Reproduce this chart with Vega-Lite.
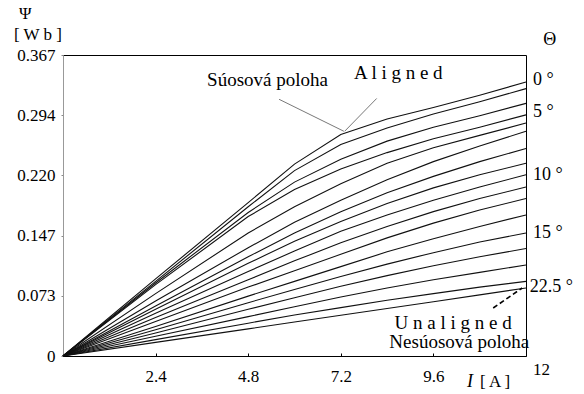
{
  "$schema": "https://vega.github.io/schema/vega-lite/v6.json",
  "width": 463,
  "height": 301,
  "autosize": {"type": "none"},
  "padding": {"left": 63, "top": 55, "right": 58, "bottom": 38},
  "background": "white",
  "config": {
    "view": {"stroke": "#000", "strokeWidth": 1},
    "font": "Liberation Serif",
    "axis": {"grid": false, "labelFont": "Liberation Serif", "labelFontSize": 17, "labelColor": "#000", "title": null}
  },
  "datasets": {
    "curves": [
      {"a": 1, "i": 0, "p": 0}, {"a": 1, "i": 2.4, "p": 0.094}, {"a": 1, "i": 4.8, "p": 0.187}, {"a": 1, "i": 6, "p": 0.234}, {"a": 1, "i": 7.2, "p": 0.270}, {"a": 1, "i": 8.4, "p": 0.289}, {"a": 1, "i": 9.6, "p": 0.303}, {"a": 1, "i": 10.8, "p": 0.318}, {"a": 1, "i": 12, "p": 0.334},
      {"a": 2, "i": 0, "p": 0}, {"a": 2, "i": 2.4, "p": 0.091}, {"a": 2, "i": 4.8, "p": 0.182}, {"a": 2, "i": 6, "p": 0.226}, {"a": 2, "i": 7.2, "p": 0.258}, {"a": 2, "i": 8.4, "p": 0.278}, {"a": 2, "i": 9.6, "p": 0.295}, {"a": 2, "i": 10.8, "p": 0.310}, {"a": 2, "i": 12, "p": 0.326},
      {"a": 3, "i": 0, "p": 0}, {"a": 3, "i": 2.4, "p": 0.089}, {"a": 3, "i": 4.8, "p": 0.175}, {"a": 3, "i": 6, "p": 0.212}, {"a": 3, "i": 7.2, "p": 0.240}, {"a": 3, "i": 8.4, "p": 0.262}, {"a": 3, "i": 9.6, "p": 0.279}, {"a": 3, "i": 10.8, "p": 0.293}, {"a": 3, "i": 12, "p": 0.308},
      {"a": 4, "i": 0, "p": 0}, {"a": 4, "i": 2.4, "p": 0.087}, {"a": 4, "i": 4.8, "p": 0.170}, {"a": 4, "i": 6, "p": 0.203}, {"a": 4, "i": 7.2, "p": 0.228}, {"a": 4, "i": 8.4, "p": 0.248}, {"a": 4, "i": 9.6, "p": 0.265}, {"a": 4, "i": 10.8, "p": 0.279}, {"a": 4, "i": 12, "p": 0.294},
      {"a": 5, "i": 0, "p": 0}, {"a": 5, "i": 2.4, "p": 0.076}, {"a": 5, "i": 4.8, "p": 0.150}, {"a": 5, "i": 6, "p": 0.182}, {"a": 5, "i": 7.2, "p": 0.210}, {"a": 5, "i": 8.4, "p": 0.235}, {"a": 5, "i": 9.6, "p": 0.254}, {"a": 5, "i": 10.8, "p": 0.269}, {"a": 5, "i": 12, "p": 0.284},
      {"a": 6, "i": 0, "p": 0}, {"a": 6, "i": 2.4, "p": 0.067}, {"a": 6, "i": 4.8, "p": 0.132}, {"a": 6, "i": 6, "p": 0.163}, {"a": 6, "i": 7.2, "p": 0.190}, {"a": 6, "i": 8.4, "p": 0.215}, {"a": 6, "i": 9.6, "p": 0.237}, {"a": 6, "i": 10.8, "p": 0.256}, {"a": 6, "i": 12, "p": 0.274},
      {"a": 7, "i": 0, "p": 0}, {"a": 7, "i": 2.4, "p": 0.061}, {"a": 7, "i": 4.8, "p": 0.121}, {"a": 7, "i": 6, "p": 0.150}, {"a": 7, "i": 7.2, "p": 0.176}, {"a": 7, "i": 8.4, "p": 0.199}, {"a": 7, "i": 9.6, "p": 0.219}, {"a": 7, "i": 10.8, "p": 0.237}, {"a": 7, "i": 12, "p": 0.253},
      {"a": 8, "i": 0, "p": 0}, {"a": 8, "i": 2.4, "p": 0.057}, {"a": 8, "i": 4.8, "p": 0.113}, {"a": 8, "i": 6, "p": 0.140}, {"a": 8, "i": 7.2, "p": 0.164}, {"a": 8, "i": 8.4, "p": 0.186}, {"a": 8, "i": 9.6, "p": 0.205}, {"a": 8, "i": 10.8, "p": 0.221}, {"a": 8, "i": 12, "p": 0.235},
      {"a": 9, "i": 0, "p": 0}, {"a": 9, "i": 2.4, "p": 0.052}, {"a": 9, "i": 4.8, "p": 0.103}, {"a": 9, "i": 6, "p": 0.128}, {"a": 9, "i": 7.2, "p": 0.152}, {"a": 9, "i": 8.4, "p": 0.172}, {"a": 9, "i": 9.6, "p": 0.190}, {"a": 9, "i": 10.8, "p": 0.206}, {"a": 9, "i": 12, "p": 0.221},
      {"a": 10, "i": 0, "p": 0}, {"a": 10, "i": 2.4, "p": 0.047}, {"a": 10, "i": 4.8, "p": 0.093}, {"a": 10, "i": 6, "p": 0.116}, {"a": 10, "i": 7.2, "p": 0.138}, {"a": 10, "i": 8.4, "p": 0.158}, {"a": 10, "i": 9.6, "p": 0.176}, {"a": 10, "i": 10.8, "p": 0.192}, {"a": 10, "i": 12, "p": 0.206},
      {"a": 11, "i": 0, "p": 0}, {"a": 11, "i": 2.4, "p": 0.042}, {"a": 11, "i": 4.8, "p": 0.084}, {"a": 11, "i": 6, "p": 0.104}, {"a": 11, "i": 7.2, "p": 0.124}, {"a": 11, "i": 8.4, "p": 0.144}, {"a": 11, "i": 9.6, "p": 0.162}, {"a": 11, "i": 10.8, "p": 0.178}, {"a": 11, "i": 12, "p": 0.192},
      {"a": 12, "i": 0, "p": 0}, {"a": 12, "i": 2.4, "p": 0.036}, {"a": 12, "i": 4.8, "p": 0.073}, {"a": 12, "i": 6, "p": 0.091}, {"a": 12, "i": 7.2, "p": 0.109}, {"a": 12, "i": 8.4, "p": 0.127}, {"a": 12, "i": 9.6, "p": 0.143}, {"a": 12, "i": 10.8, "p": 0.158}, {"a": 12, "i": 12, "p": 0.172},
      {"a": 13, "i": 0, "p": 0}, {"a": 13, "i": 2.4, "p": 0.032}, {"a": 13, "i": 4.8, "p": 0.065}, {"a": 13, "i": 6, "p": 0.081}, {"a": 13, "i": 7.2, "p": 0.097}, {"a": 13, "i": 8.4, "p": 0.112}, {"a": 13, "i": 9.6, "p": 0.126}, {"a": 13, "i": 10.8, "p": 0.139}, {"a": 13, "i": 12, "p": 0.150},
      {"a": 14, "i": 0, "p": 0}, {"a": 14, "i": 2.4, "p": 0.028}, {"a": 14, "i": 4.8, "p": 0.057}, {"a": 14, "i": 6, "p": 0.071}, {"a": 14, "i": 7.2, "p": 0.085}, {"a": 14, "i": 8.4, "p": 0.098}, {"a": 14, "i": 9.6, "p": 0.110}, {"a": 14, "i": 10.8, "p": 0.121}, {"a": 14, "i": 12, "p": 0.131},
      {"a": 15, "i": 0, "p": 0}, {"a": 15, "i": 2.4, "p": 0.024}, {"a": 15, "i": 4.8, "p": 0.048}, {"a": 15, "i": 6, "p": 0.060}, {"a": 15, "i": 7.2, "p": 0.072}, {"a": 15, "i": 8.4, "p": 0.083}, {"a": 15, "i": 9.6, "p": 0.093}, {"a": 15, "i": 10.8, "p": 0.102}, {"a": 15, "i": 12, "p": 0.111},
      {"a": 16, "i": 0, "p": 0}, {"a": 16, "i": 2.4, "p": 0.020}, {"a": 16, "i": 4.8, "p": 0.040}, {"a": 16, "i": 6, "p": 0.050}, {"a": 16, "i": 7.2, "p": 0.059}, {"a": 16, "i": 8.4, "p": 0.068}, {"a": 16, "i": 9.6, "p": 0.076}, {"a": 16, "i": 10.8, "p": 0.084}, {"a": 16, "i": 12, "p": 0.091},
      {"a": 17, "i": 0, "p": 0}, {"a": 17, "i": 2.4, "p": 0.0166}, {"a": 17, "i": 4.8, "p": 0.0331}, {"a": 17, "i": 6, "p": 0.0414}, {"a": 17, "i": 7.2, "p": 0.0497}, {"a": 17, "i": 8.4, "p": 0.058}, {"a": 17, "i": 9.6, "p": 0.0662}, {"a": 17, "i": 10.8, "p": 0.0745}, {"a": 17, "i": 12, "p": 0.083}
    ]
  },
  "layer": [
    {
      "data": {"name": "curves"},
      "mark": {"type": "line", "color": "#111", "strokeWidth": 1.1},
      "encoding": {
        "x": {"field": "i", "type": "quantitative", "scale": {"domain": [0, 12], "nice": false, "zero": false},
              "axis": {"values": [2.4, 4.8, 7.2, 9.6], "tickSize": -3, "tickColor": "#000", "domainColor": "#000", "labelPadding": 15, "format": ".1f"}},
        "y": {"field": "p", "type": "quantitative", "scale": {"domain": [0, 0.367], "nice": false},
              "axis": {"values": [0, 0.0734, 0.1468, 0.2202, 0.2936, 0.367], "tickSize": 2, "tickColor": "#888", "domainColor": "#999", "labelPadding": 6,
                       "labelExpr": "datum.value == 0 ? '0' : format(datum.value, '.3f')"}},
        "detail": {"field": "a", "type": "nominal"}
      }
    },
    {
      "data": {"values": [
        {"x": 5.6, "y": 0.313, "x2": 7.28, "y2": 0.274},
        {"x": 8.13, "y": 0.314, "x2": 7.3, "y2": 0.274}
      ]},
      "mark": {"type": "rule", "color": "#555", "strokeWidth": 0.8},
      "encoding": {
        "x": {"field": "x", "type": "quantitative"},
        "y": {"field": "y", "type": "quantitative"},
        "x2": {"field": "x2"},
        "y2": {"field": "y2"}
      }
    },
    {
      "data": {"values": [{"x": 11.15, "y": 0.0585, "x2": 11.9, "y2": 0.0829}]},
      "mark": {"type": "rule", "color": "#000", "strokeWidth": 1.6, "strokeDash": [5, 3]},
      "encoding": {
        "x": {"field": "x", "type": "quantitative"},
        "y": {"field": "y", "type": "quantitative"},
        "x2": {"field": "x2"},
        "y2": {"field": "y2"}
      }
    },
    {
      "data": {"values": [
        {"x": 12.45, "y": 0.385, "t": "Θ"},
        {"x": 12.18, "y": 0.3365, "t": "0 °"},
        {"x": 12.18, "y": 0.298, "t": "5 °"},
        {"x": 12.18, "y": 0.2207, "t": "10 °"},
        {"x": 12.18, "y": 0.1496, "t": "15 °"},
        {"x": 12.1, "y": 0.0845, "t": "22.5 °"}
      ]},
      "mark": {"type": "text", "align": "left", "baseline": "middle", "font": "Liberation Serif", "fontSize": 18, "color": "#000"},
      "encoding": {
        "x": {"field": "x", "type": "quantitative"},
        "y": {"field": "y", "type": "quantitative"},
        "text": {"field": "t"}
      }
    },
    {
      "data": {"values": [
        {"x": 5.3, "y": 0.3365, "t": "Súosová poloha"},
        {"x": 10.27, "y": 0.0171, "t": "Nesúosová poloha"}
      ]},
      "mark": {"type": "text", "align": "center", "baseline": "middle", "font": "Liberation Serif", "fontSize": 19, "color": "#000"},
      "encoding": {
        "x": {"field": "x", "type": "quantitative"},
        "y": {"field": "y", "type": "quantitative"},
        "text": {"field": "t"}
      }
    },
    {
      "data": {"values": [
        {"x": -0.98, "y": 0.417, "t": "Ψ"},
        {"x": -0.65, "y": 0.391, "t": "[ W b ]"},
        {"x": 12.4, "y": -0.017, "t": "12"},
        {"x": 11.2, "y": -0.0317, "t": "[ A ]"}
      ]},
      "mark": {"type": "text", "align": "center", "baseline": "middle", "font": "Liberation Serif", "fontSize": 17, "color": "#000"},
      "encoding": {
        "x": {"field": "x", "type": "quantitative"},
        "y": {"field": "y", "type": "quantitative"},
        "text": {"field": "t"}
      }
    },
    {
      "data": {"values": [
        {"x": 8.69, "y": 0.345, "t": "A l i g n e d"},
        {"x": 10.11, "y": 0.0402, "t": "U n a l i g n e d"}
      ]},
      "mark": {"type": "text", "align": "center", "baseline": "middle", "font": "Liberation Serif", "fontSize": 19, "color": "#000"},
      "encoding": {
        "x": {"field": "x", "type": "quantitative"},
        "y": {"field": "y", "type": "quantitative"},
        "text": {"field": "t"}
      }
    },
    {
      "data": {"values": [{"x": 10.55, "y": -0.0317, "t": "I"}]},
      "mark": {"type": "text", "align": "center", "baseline": "middle", "font": "Liberation Serif", "fontSize": 18, "fontStyle": "italic", "color": "#000"},
      "encoding": {
        "x": {"field": "x", "type": "quantitative"},
        "y": {"field": "y", "type": "quantitative"},
        "text": {"field": "t"}
      }
    }
  ]
}
